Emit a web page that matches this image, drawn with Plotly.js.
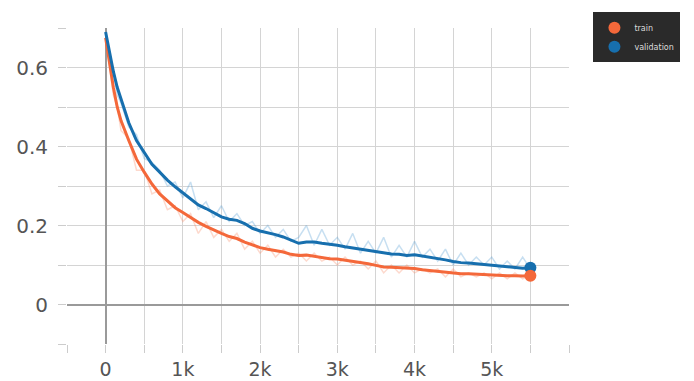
<!DOCTYPE html>
<html>
<head>
<meta charset="utf-8">
<script src="https://cdn.plot.ly/plotly-3.0.1.min.js"></script>
<style>html,body{margin:0;padding:0;background:#fff;}#chart{width:694px;height:381px;}</style>
</head>
<body>
<div id="chart"></div>
<script>
const steps = [0,50,100,150,200,300,400,500,600,700,800,900,1000,1100,1200,1300,1400,1500,1600,1700,1800,1900,2000,2100,2200,2300,2400,2500,2600,2700,2800,2900,3000,3100,3200,3300,3400,3500,3600,3700,3800,3900,4000,4100,4200,4300,4400,4500,4600,4700,4800,4900,5000,5100,5200,5300,5400,5500];

const validationSmooth = [0.69,0.64,0.59,0.55,0.52,0.46,0.415,0.385,0.355,0.335,0.315,0.298,0.282,0.268,0.252,0.243,0.232,0.222,0.216,0.213,0.205,0.193,0.186,0.182,0.177,0.171,0.162,0.155,0.158,0.158,0.155,0.153,0.150,0.146,0.143,0.140,0.137,0.133,0.131,0.128,0.127,0.124,0.126,0.123,0.119,0.117,0.113,0.109,0.106,0.105,0.103,0.101,0.099,0.097,0.096,0.094,0.092,0.093];

const trainSmooth = [0.675,0.61,0.55,0.50,0.465,0.415,0.368,0.335,0.305,0.28,0.262,0.245,0.233,0.22,0.208,0.198,0.188,0.180,0.172,0.167,0.158,0.150,0.144,0.140,0.137,0.133,0.127,0.124,0.125,0.122,0.119,0.116,0.115,0.112,0.110,0.107,0.103,0.099,0.095,0.094,0.093,0.093,0.091,0.088,0.086,0.084,0.082,0.079,0.078,0.078,0.077,0.076,0.074,0.073,0.073,0.073,0.072,0.073];

const validationRaw = [0.69,0.62,0.60,0.53,0.51,0.45,0.43,0.37,0.36,0.34,0.30,0.31,0.27,0.31,0.24,0.26,0.22,0.25,0.21,0.23,0.20,0.21,0.18,0.20,0.17,0.19,0.16,0.17,0.20,0.15,0.19,0.15,0.17,0.14,0.18,0.13,0.16,0.13,0.17,0.12,0.15,0.12,0.16,0.12,0.14,0.11,0.14,0.10,0.13,0.10,0.12,0.10,0.12,0.09,0.11,0.09,0.12,0.09];

const trainRaw = [0.675,0.60,0.53,0.50,0.44,0.42,0.34,0.34,0.28,0.29,0.24,0.25,0.21,0.23,0.18,0.21,0.17,0.19,0.16,0.18,0.14,0.16,0.13,0.15,0.12,0.14,0.12,0.13,0.11,0.13,0.11,0.12,0.10,0.12,0.10,0.11,0.09,0.11,0.08,0.10,0.08,0.10,0.08,0.09,0.08,0.09,0.07,0.09,0.07,0.08,0.07,0.08,0.065,0.08,0.065,0.08,0.065,0.075];

const seriesNames = ["train", "validation"];
const xTickVals = [0,1000,2000,3000,4000,5000];
const xTickText = ["0","1k","2k","3k","4k","5k"];
const yTickVals = [0,0.2,0.4,0.6];
const yTickText = ["0","0.2","0.4","0.6"];

const orange = "#f4683a";
const blue = "#176fae";

const last = a => a[a.length - 1];

const traces = [
  {x: steps, y: trainRaw, mode: "lines", line: {color: "rgba(250,130,90,0.3)", width: 1.5}, showlegend: false, hoverinfo: "skip"},
  {x: steps, y: validationRaw, mode: "lines", line: {color: "rgba(70,150,210,0.3)", width: 1.5}, showlegend: false, hoverinfo: "skip"},
  {x: steps, y: trainSmooth, mode: "lines", line: {color: orange, width: 3}, showlegend: false},
  {x: steps, y: validationSmooth, mode: "lines", line: {color: blue, width: 3}, showlegend: false},
  {x: [last(steps)], y: [last(validationSmooth)], mode: "markers", name: seriesNames[1], marker: {color: blue, size: 12}, showlegend: false},
  {x: [last(steps)], y: [last(trainSmooth)], mode: "markers", name: seriesNames[0], marker: {color: orange, size: 12}, showlegend: true},
  {x: [null], y: [null], mode: "markers", name: seriesNames[1], marker: {color: blue, size: 12}, showlegend: true}
];

const layout = {
  width: 694, height: 381,
  margin: {l: 67, r: 125, t: 26, b: 37, pad: 0},
  paper_bgcolor: "#fff", plot_bgcolor: "#fff",
  font: {family: "DejaVu Sans, sans-serif", color: "#555", size: 20},
  showlegend: true,
  legend: {
    x: 1.222, y: 1.05, xanchor: "right", yanchor: "top",
    bgcolor: "#2a2a2a", bordercolor: "#2a2a2a", borderwidth: 1,
    font: {color: "#dcdcdc", size: 8, family: "DejaVu Sans, sans-serif"},
    itemwidth: 30, tracegroupgap: 0
  },
  xaxis: {
    range: [-500, 6000], tickvals: xTickVals, ticktext: xTickText,
    tickfont: {size: 19},
    showgrid: true, gridcolor: "#d4d4d4", gridwidth: 1,
    ticks: "outside", ticklen: 8, tickcolor: "#cccccc", tickwidth: 1,
    minor: {dtick: 500, tick0: 0, showgrid: true, gridcolor: "#d4d4d4", ticks: "outside", ticklen: 8, tickcolor: "#cccccc"},
    zeroline: true, zerolinecolor: "#9a9a9a", zerolinewidth: 2,
    showline: false, ticklabelstandoff: 0, fixedrange: true
  },
  yaxis: {
    range: [-0.1, 0.7], tickvals: yTickVals, ticktext: yTickText,
    showgrid: true, gridcolor: "#d4d4d4", gridwidth: 1,
    ticks: "outside", ticklen: 8, tickcolor: "#cccccc", tickwidth: 1,
    minor: {dtick: 0.1, tick0: 0, showgrid: true, gridcolor: "#d4d4d4", ticks: "outside", ticklen: 8, tickcolor: "#cccccc"},
    zeroline: true, zerolinecolor: "#9a9a9a", zerolinewidth: 2,
    showline: false, ticklabelstandoff: 6, fixedrange: true
  }
};

Plotly.newPlot("chart", traces, layout, {displayModeBar: false, staticPlot: true});
</script>
</body>
</html>
